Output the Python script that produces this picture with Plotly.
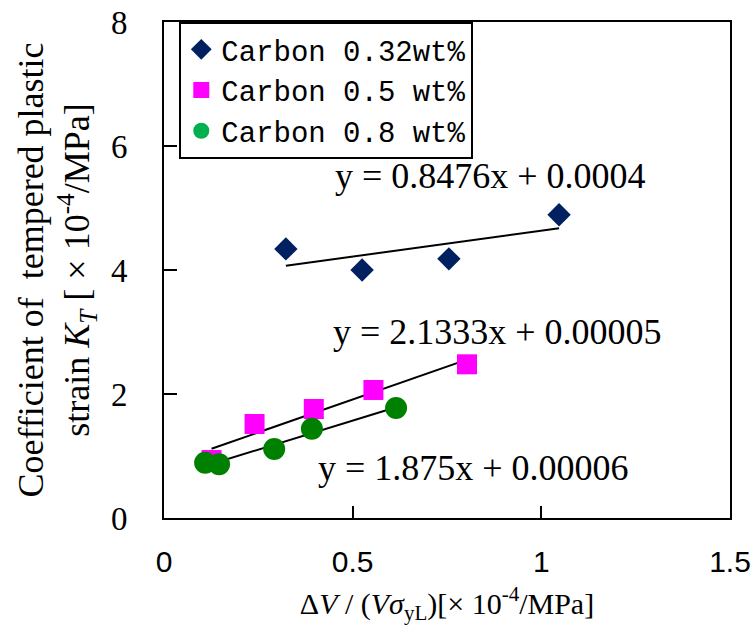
import numpy as np
import plotly.graph_objects as go

# ---- data ----
x_c032 = [0.323, 0.525, 0.755, 1.047]
y_c032 = [4.34, 4.00, 4.18, 4.89]

x_c05 = [0.126, 0.240, 0.397, 0.555, 0.803]
y_c05 = [0.935, 1.516, 1.758, 2.065, 2.479]

x_c08 = [0.109, 0.146, 0.292, 0.392, 0.615]
y_c08 = [0.892, 0.866, 1.113, 1.440, 1.774]

series_names = ["Carbon 0.32wt%", "Carbon 0.5 wt%", "Carbon 0.8 wt%"]
eq_labels = ["y = 0.8476x + 0.0004", "y = 2.1333x + 0.00005", "y = 1.875x + 0.00006"]

x_ticks = [0, 0.5, 1, 1.5]
y_ticks = [0, 2, 4, 6, 8]

NAVY = "#002060"
MAGENTA = "#FF00FF"
GREEN_DATA = "#008000"
GREEN_LEG = "#00B050"

fig = go.Figure()


def trend(xs, ys):
    k, b = np.polyfit(xs, ys, 1)
    xx = np.array([min(xs), max(xs)])
    return xx, k * xx + b


series = [
    (x_c032, y_c032, "diamond", 18, NAVY, NAVY),
    (x_c05, y_c05, "square", 20, MAGENTA, MAGENTA),
    (x_c08, y_c08, "circle", 22, GREEN_DATA, GREEN_LEG),
]

for (xs, ys, sym, sz, col, legcol), name in zip(series, series_names):
    tx, ty = trend(xs, ys)
    fig.add_trace(go.Scatter(x=tx, y=ty, mode="lines",
                             line=dict(color="black", width=2),
                             showlegend=False, hoverinfo="skip"))
    fig.add_trace(go.Scatter(x=xs, y=ys, mode="markers",
                             marker=dict(symbol=sym, size=sz, color=col),
                             showlegend=False, name=name))
    fig.add_trace(go.Scatter(x=[None], y=[None], mode="markers",
                             marker=dict(symbol=sym, size=sz, color=legcol),
                             name=name, showlegend=True))

ann_pos = [(0.864, 5.52), (0.883, 3.0), (0.819, 0.81)]
for (ax_, ay_), txt in zip(ann_pos, eq_labels):
    fig.add_annotation(x=ax_, y=ay_, xref="x", yref="y", text=txt,
                       showarrow=False, xanchor="center", yanchor="middle",
                       font=dict(family="Liberation Serif, Times New Roman, serif",
                                 size=36, color="black"))

fig.update_layout(
    width=755, height=625,
    margin=dict(l=164, r=25, t=22, b=107),
    paper_bgcolor="white", plot_bgcolor="white",
    showlegend=True,
    legend=dict(x=0.027, y=1.0, xanchor="left", yanchor="top",
                xref="paper", yref="paper",
                bgcolor="white", bordercolor="black", borderwidth=2,
                font=dict(family="Liberation Mono, DejaVu Sans Mono, monospace",
                          size=29, color="black"),
                tracegroupgap=0, itemwidth=30),
)

fig.update_xaxes(
    range=[0, 1.5], tickvals=x_ticks, ticktext=[str(v) for v in x_ticks],
    ticks="inside", ticklen=12, tickwidth=2, tickcolor="black",
    showline=True, linewidth=2, linecolor="black", mirror=True,
    showgrid=False, zeroline=False, automargin=False,
    tickfont=dict(family="Liberation Sans, Arial, sans-serif", size=30, color="black"),
    ticklabelstandoff=16,
    title=dict(text="Δ<i>V</i> / (<i>Vσ</i><sub>yL</sub>)[× 10<sup>-4</sup>/MPa]",
               font=dict(family="Liberation Serif, Times New Roman, serif", size=30, color="black"),
               standoff=16),
)
fig.update_yaxes(
    range=[0, 8], tickvals=y_ticks, ticktext=[str(v) for v in y_ticks],
    ticks="inside", ticklen=13, tickwidth=2, tickcolor="black",
    showline=True, linewidth=2, linecolor="black", mirror=True,
    showgrid=False, zeroline=False, automargin=False,
    tickfont=dict(family="Liberation Serif, Times New Roman, serif", size=33, color="black"),
    ticklabelstandoff=28,
    title=dict(text="Coefficient of  tempered plastic<br>strain <i>K</i><sub><i>T</i></sub> [ × 10<sup>-4</sup>/MPa]",
               font=dict(family="Liberation Serif, Times New Roman, serif", size=36, color="black"),
               standoff=10),
)

fig.write_html("out.html",
               config={"displayModeBar": False},
               post_script="document.body.style.margin='0';document.body.style.overflow='hidden';")
